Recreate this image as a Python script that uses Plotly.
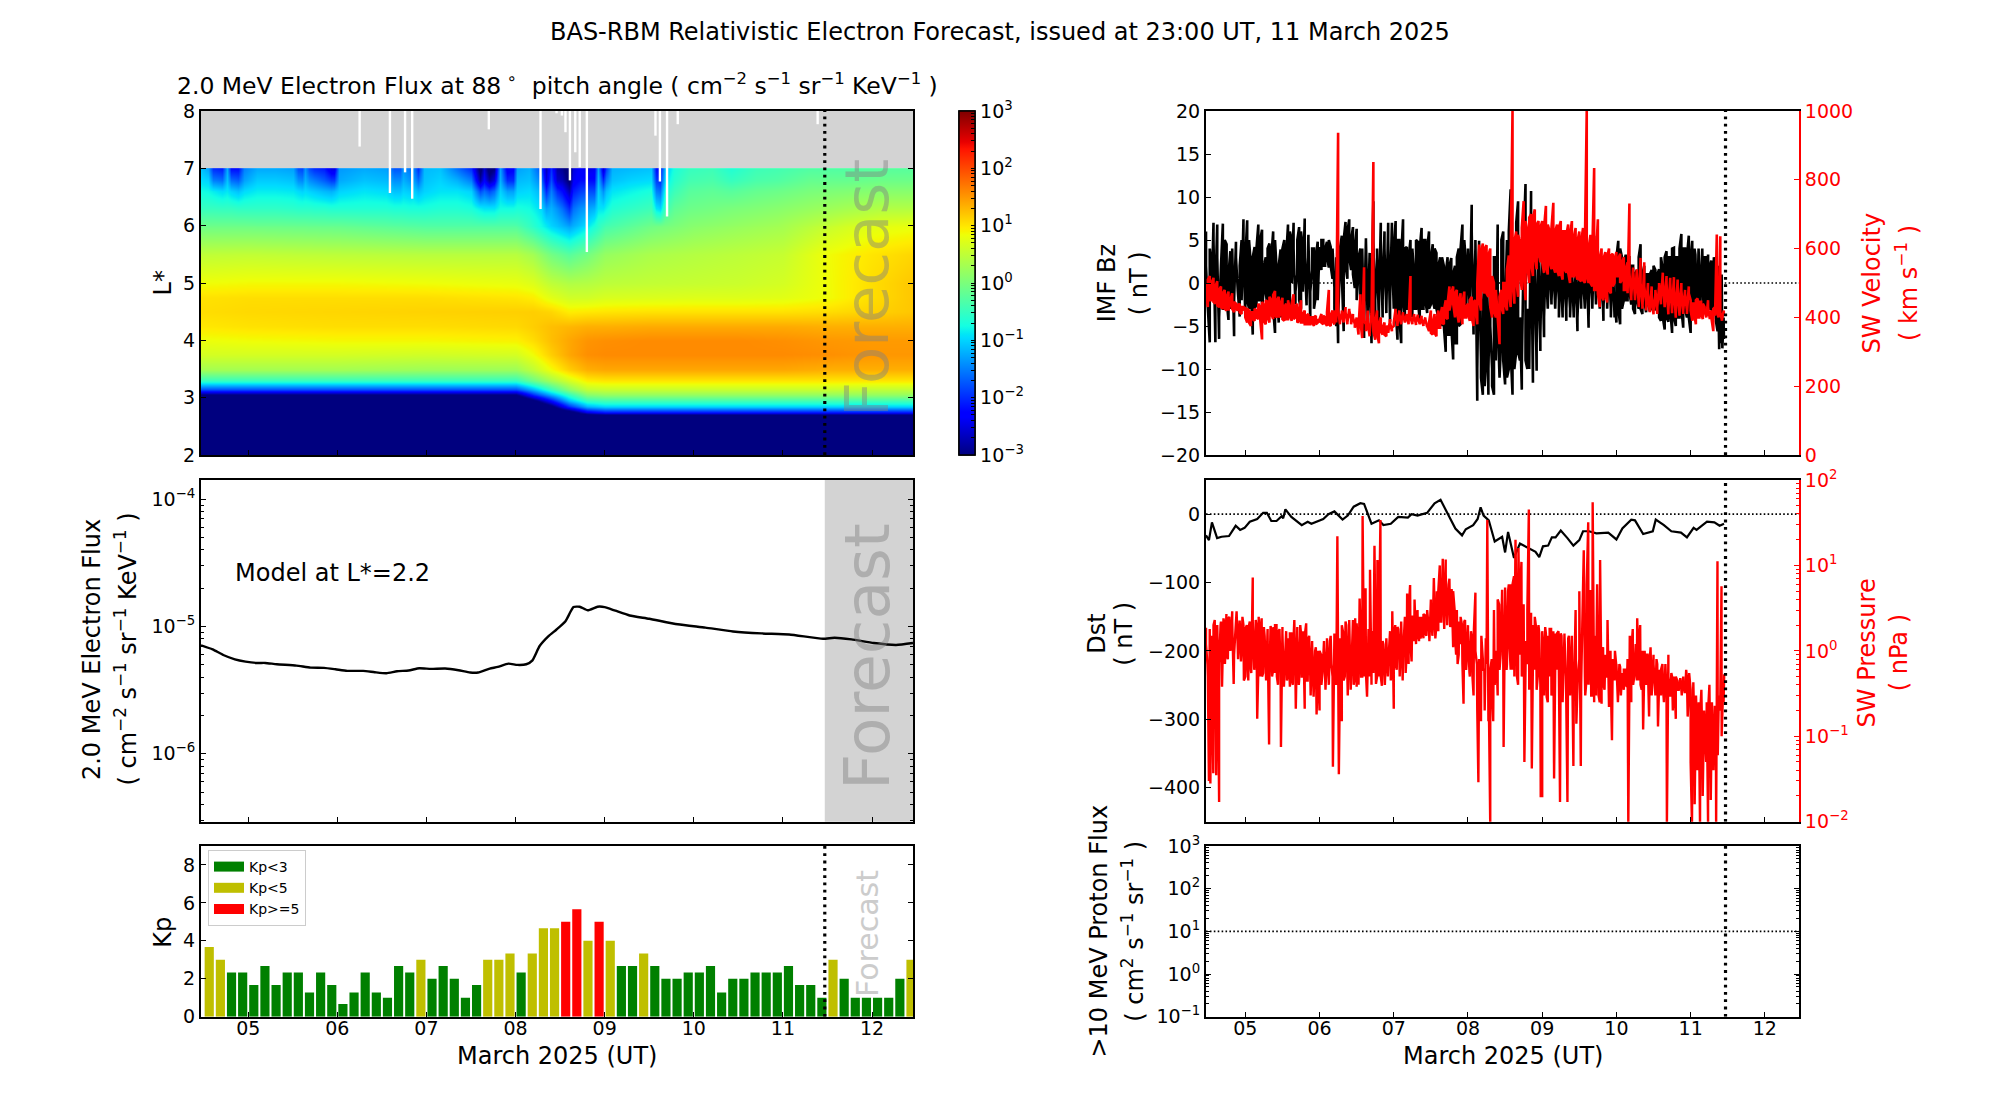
import numpy as np
import plotly.graph_objects as go

# ---------- shared ----------
FORECAST_DAY = 11.47
X_RANGE = [4.47, 12.46]
DAY_TICKS = [5, 6, 7, 8, 9, 10, 11, 12]
DAY_LABELS = ["05", "06", "07", "08", "09", "10", "11", "12"]
SEG_EDGES = [4.47, 5, 6, 7, 8, 9, 10, 11, 11.47]

# ---------- electron flux map: log10 flux ----------
map_times = [4.47, 5, 6, 7, 8, 8.2, 8.4, 8.6, 8.8, 9, 9.5, 10, 10.5, 11, 11.5, 12, 12.46]
map_L = [2, 2.6, 2.7, 2.75, 2.85, 2.95, 3.05, 3.15, 3.3, 3.5, 3.75, 4, 4.25, 4.5, 4.75, 5, 5.5, 6]
map_rows = [
    [-4, -4, -4, -4, -4, -4, -4, -4, -4, -4, -4, -4, -4, -4, -4, -4, -4],
    [-4, -4, -4, -4, -4, -4, -4, -4, -4, -4, -4, -4, -4, -4, -4, -4, -4],
    [-4, -4, -4, -4, -4, -4, -4, -4, -3.3, -3, -3, -3, -3, -3, -3, -3, -3],
    [-4, -4, -4, -4, -4, -4, -4, -3.5, -2.5, -2.2, -2.2, -2.2, -2.2, -2.2, -2.2, -2.2, -2.2],
    [-4, -4, -4, -4, -4, -4, -3.2, -2, -1.2, -1, -1, -1, -1, -1, -1, -1, -1],
    [-4, -4, -4, -4, -4, -3.2, -2.2, -1.1, -.5, -.4, -.4, -.4, -.4, -.4, -.4, -.4, -.4],
    [-3, -3, -3, -3, -3, -2, -1.2, -.5, .1, .2, .2, .2, .2, .2, .2, .2, .2],
    [-1.8, -1.8, -1.8, -1.8, -1.8, -1.2, -.5, .1, .5, .55, .55, .55, .55, .55, .55, .5, .5],
    [-.5, -.5, -.5, -.5, -.5, -.1, .3, .65, .95, 1.0, 1.0, 1.0, 1.0, 1.0, 1.0, 1.0, 1.0],
    [.3, .3, .3, .25, .25, .5, .85, 1.15, 1.35, 1.4, 1.4, 1.4, 1.4, 1.4, 1.35, 1.35, 1.35],
    [.65, .65, .65, .62, .65, .85, 1.15, 1.4, 1.55, 1.58, 1.58, 1.58, 1.58, 1.58, 1.55, 1.5, 1.5],
    [.82, .85, .88, .88, .92, 1.05, 1.25, 1.4, 1.52, 1.55, 1.58, 1.58, 1.58, 1.55, 1.5, 1.48, 1.48],
    [.98, 1.02, 1.05, 1.05, 1.08, 1.15, 1.25, 1.3, 1.35, 1.35, 1.38, 1.38, 1.38, 1.38, 1.35, 1.35, 1.35],
    [1.05, 1.08, 1.1, 1.12, 1.14, 1.15, 1.1, .95, .98, 1.0, 1.02, 1.02, 1.02, 1.02, 1.05, 1.12, 1.2],
    [1.02, 1.05, 1.05, 1.05, 1.0, .95, .75, .62, .62, .68, .7, .72, .72, .75, .85, 1.05, 1.2],
    [.85, .88, .88, .85, .8, .72, .5, .4, .42, .48, .52, .55, .58, .65, .85, 1.05, 1.2],
    [.5, .52, .48, .45, .45, .3, -.05, -.25, -.05, .2, .35, .42, .48, .55, .85, 1.0, 1.1],
    [-.1, -.1, -.15, -.3, -.3, -.6, -1.0, -1.3, -.9, -.4, -.1, .1, .2, .3, .55, .75, .8],
]
# fine structure above L*=6: day, then log10 flux at each L* of outer_L
outer_L = [6, 6.3, 6.6, 6.8, 7]
outer_table = [
    (4.47, -.1, -.5, -.75, -.95, -1.1), (4.55, -.1, -.5, -.78, -1.0, -1.3),
    (4.61, -.1, -.5, -.85, -1.5, -2.0), (4.70, -.1, -.52, -.95, -1.6, -2.1),
    (4.76, -.1, -.52, -.88, -1.1, -1.25), (4.81, -.1, -.52, -1.0, -1.6, -2.2),
    (4.88, -.1, -.55, -1.1, -1.7, -2.2), (4.95, -.1, -.55, -.95, -1.3, -1.5),
    (5.1, -.12, -.55, -.85, -1.05, -1.25), (5.3, -.12, -.55, -.85, -1.05, -1.25),
    (5.5, -.13, -.58, -.88, -1.1, -1.3), (5.56, -.13, -.6, -.95, -1.4, -1.8),
    (5.6, -.13, -.6, -1, -1.45, -1.85), (5.64, -.13, -.6, -.95, -1.2, -1.4),
    (5.68, -.14, -.6, -1, -1.4, -1.8), (5.74, -.14, -.62, -1.05, -1.5, -2.0),
    (5.85, -.15, -.62, -1.15, -1.7, -2.1), (5.93, -.15, -.65, -1.2, -1.9, -2.5),
    (5.96, -.15, -.65, -1.15, -1.9, -2.5), (6.02, -.15, -.65, -1.0, -1.25, -1.35),
    (6.3, -.2, -.65, -.9, -1.1, -1.25), (6.55, -.23, -.65, -.95, -1.15, -1.3),
    (6.64, -.25, -.68, -1.1, -1.4, -1.75), (6.7, -.25, -.68, -1.1, -1.4, -1.75),
    (6.74, -.26, -.68, -1, -1.2, -1.35), (6.8, -.27, -.7, -1.05, -1.35, -1.55),
    (6.85, -.27, -.7, -1.0, -1.25, -1.4), (6.9, -.28, -.7, -1.15, -1.6, -2.0),
    (6.97, -.29, -.7, -1, -1.1, -1.15), (7.15, -.3, -.65, -.9, -1.0, -1.1),
    (7.34, -.3, -.65, -.9, -1.2, -1.6), (7.5, -.3, -.7, -1, -1.5, -2.0),
    (7.6, -.3, -.85, -1.8, -2.8, -3.2), (7.65, -.3, -.9, -1.6, -2.3, -2.6),
    (7.7, -.3, -.9, -1.8, -2.8, -3.2), (7.76, -.3, -.9, -1.6, -2.5, -3.0),
    (7.82, -.3, -.75, -1, -1.2, -1.3), (7.9, -.3, -.75, -1.3, -2.0, -2.4),
    (7.97, -.3, -.75, -1.3, -2.0, -2.3), (8.02, -.33, -.7, -1, -1.15, -1.3),
    (8.15, -.5, -.75, -.95, -1.1, -1.2), (8.28, -.75, -.95, -1.2, -1.5, -1.8),
    (8.34, -.85, -1.3, -2.0, -2.5, -2.7), (8.4, -1.0, -1.2, -1.5, -1.8, -2.0),
    (8.46, -1.08, -1.4, -2.0, -2.6, -2.8), (8.52, -1.17, -1.6, -2.2, -2.7, -2.9),
    (8.6, -1.3, -2.0, -2.7, -3.1, -3.3), (8.65, -1.2, -1.6, -2.1, -2.4, -2.5),
    (8.72, -1.07, -1.4, -1.9, -2.2, -2.3), (8.8, -.9, -1.3, -1.8, -2.2, -2.5),
    (8.88, -.7, -1.2, -1.8, -2.2, -2.4), (8.93, -.54, -.9, -1, -1.15, -1.3),
    (8.98, -.44, -.9, -1.4, -2.0, -2.6), (9.02, -.39, -.8, -1.1, -1.5, -1.9),
    (9.08, -.35, -.65, -.9, -1.1, -1.2), (9.3, -.22, -.55, -.8, -1, -1.15),
    (9.52, -.09, -.45, -.7, -.95, -1.1), (9.58, -.06, -.9, -1.5, -1.9, -2.2),
    (9.62, -.05, -1.0, -1.6, -2.0, -2.2), (9.68, -.03, -.45, -.7, -.95, -1.1),
    (9.78, .01, -.2, -.45, -.6, -.7), (9.95, .09, -.1, -.25, -.4, -.5),
    (10.2, .14, -.05, -.2, -.35, -.45), (10.42, .18, 0, -.25, -.5, -.65),
    (10.7, .24, .05, -.15, -.35, -.45), (10.95, .29, .1, -.1, -.3, -.4),
    (11.3, .45, .2, 0, -.15, -.3), (11.7, .63, .3, .05, -.15, -.3),
    (12.1, .76, .4, .1, -.1, -.25), (12.46, .8, .4, .1, -.1, -.25),
]
# missing-data streaks: day and the L* they reach down to
streak_days = [6.25, 6.59, 6.76, 6.84, 7.70, 8.28, 8.46, 8.52, 8.56, 8.61, 8.67, 8.72, 8.80, 9.57, 9.62, 9.70, 9.82, 11.39]
streak_L = [7.38, 6.57, 6.93, 6.47, 7.68, 6.29, 7.96, 7.92, 7.63, 6.79, 7.28, 7.02, 5.54, 7.57, 6.77, 6.16, 7.77, 7.77]

# ---------- model flux at L*=2.2 ----------
model_days = [4.47, 4.60, 4.72, 4.85, 4.97, 5.10, 5.19, 5.32, 5.54, 5.70, 5.85, 5.98, 6.11, 6.29, 6.42, 6.55, 6.67, 6.80, 6.92,
              7.05, 7.21, 7.36, 7.49, 7.58, 7.71, 7.80, 7.92, 8.02, 8.12, 8.19, 8.27, 8.37, 8.46, 8.56, 8.65, 8.72, 8.81, 8.92,
              9.00, 9.12, 9.28, 9.50, 9.82, 10.13, 10.44, 10.76, 11.07, 11.45, 11.58, 11.77, 12.02, 12.27, 12.46]
model_flux = [7.11e-6, 6.61e-6, 5.97e-6, 5.52e-6, 5.30e-6, 5.17e-6, 5.17e-6, 5.05e-6, 4.93e-6, 4.75e-6, 4.73e-6, 4.61e-6, 4.48e-6,
              4.48e-6, 4.37e-6, 4.29e-6, 4.45e-6, 4.51e-6, 4.70e-6, 4.64e-6, 4.67e-6, 4.53e-6, 4.35e-6, 4.35e-6, 4.67e-6, 4.81e-6,
              5.11e-6, 4.99e-6, 5.05e-6, 5.42e-6, 7.02e-6, 8.40e-6, 9.47e-6, 11.0e-6, 14.2e-6, 14.3e-6, 13.4e-6, 14.3e-6, 14.2e-6,
              13.3e-6, 12.2e-6, 11.5e-6, 10.4e-6, 9.8e-6, 9.14e-6, 8.82e-6, 8.66e-6, 8.01e-6, 8.16e-6, 7.92e-6, 7.41e-6, 7.15e-6, 7.41e-6]

# ---------- Kp, three-hourly from the start of the window ----------
KP_FIRST = 4.5625
KP_STEP = 0.125
kp_values = [3.67, 3, 2.33, 2.33, 1.67, 2.67, 1.67, 2.33, 2.33, 1.27, 2.33, 1.67, .67, 1.27, 2.33, 1.27, 1, 2.67, 2.33, 3,
             2, 2.67, 2, 1, 1.67, 3, 3, 3.33, 2.33, 3.33, 4.67, 4.67, 5, 5.67, 4, 5, 4, 2.67, 2.67, 3.33,
             2.67, 2, 2, 2.33, 2.33, 2.67, 1.27, 2, 2, 2.33, 2.33, 2.33, 2.67, 1.67, 1.67, 1, 3, 2, 1, 1,
             1, 1, 2, 3]

# ---------- IMF Bz, by day (nT): envelope readings, then the readings inside the band ----------
bz_by_day = [
    [6, -3, -6.9, 2, 7, -6.9, 6.8, -6.5, 2, 6.9, -3, 4.5, -4.3, 3.7, -2, -6.2, 4.8, -1, -3.9, 5, 7.4],
    [-4, 7.3, -3, 2, -6, 4.2, -2.5, 6.8, -2, 6.2, -0.6, 3, -3, 4.6, -3.5, 6, -5.8, 1, -4.6, 3.9, -2.5, 5, -3, 6.8, -4, 5, 7, -2.5, 1, 6.5, -3, 4, 7.5, -2.6, 5.6, -4.5, 1.5, 4, -1.5, 4.8],
    [4.2, 1.5, 5, 2, 4.8, 1.8, 4.2, 0.5, -0.5, -5, -7, 2, 5.5, -5.6, 7.1, 0.5, 7.4, 1.5, 6.5, -0.6, 6.3, 1.2, 4, -1, -6.4, 5.2, -5, 3.5, -7, 9.5, -5.5, 3, -4.8, 7, -4, 6, -3.5, 7, -4.5, 7],
    [-3, 7.2, -6.6, 5, -7, 7.4, -4, 4.2, -3, 5, -4, 1, -3, 4.8, -4.4, 6.4, -3, 5, -3.5, 6, -2.5, 4.5, -3, 3.5, -4, 3, -5, 2, -8, 3, -6, 2.9, -8.9, 2, -7, 4, -4.8, 6.8, -4, 2],
    [3, -4, 9.1, -6, 4, -13.7, 4.9, -9, -13, 1, -8, -13, 0, -10, -13, 3, 6.8, -11, -6, 6, -11.8, 5, -10, 10.9, -13, 5, -8, 9.5, -9, -12.4, 4, 11.5, -10, -5, 10.7, -11.6, 7.2, -10.2, 3, -7.9],
    [5, -6.3, 4, -3, 3, -2.5, 2.5, -3, 3, -2, 3, -4, 2, -4.4, 3, -3, 2, -4, 1, -5.6, 2, -3, 3, -3, 2, -5.2, 4, -2, 5.5, -2.5, 3, -2, 2, -4.4, 2.5, -2, 3, -3, 2, -4],
    [-4.6, 4.9, -4.8, 3, -2, 3.3, -2, 3, -2.5, 2, -3.6, 1.5, -3, 4.5, -3.6, 2, -3.4, 1, -3.3, 1.5, -3.2, 1.5, -3.2, 1.6, -4.4, 1.6, -5.4, 3.7, -4.5, 3, -5.8, 4.1, -5, 3, -4, 5.7, -5.2, 4, -4, 5.5],
    [-5.8, 4.9, -3, 3.3, -4, 4, -2.5, 3.5, -3.5, 3, -3.8, 3.3, -3, 2.6, -4, 2, -4.5, -5.6, -7.7, -7, -7.6, -6.5],
]
bz_band_by_day = [
    [2, -3, 4, -2, 5, -1, 3, -4, 2, -3, 5, -2, 1, -3, 4, -2, 3, -1, 2, -2, 4],
    [3, -2, 5, -1, 3, -3, 4, -2, 5, -3, 2, -1, 4, -2, 3, -3, 5, -1, 2, -4, 4, -2, 3, -1, 6, 0, 4, -1, 5, -2, 6, -1, 3, -2, 5, -1, 4, -3, 3, -2],
    [3, 5, 2, 4, 3, 5, 2, 4, -3, 3, -4, 4, 1, 5, 2, 6, 3, 5, 1, 4, -2, 3, -4, 4, -5, 5, -4, 3, -3, 5, -2, 4, -3, 5, -2, 4, -3, 5, -2, 4],
    [4, -3, 5, -4, 3, -2, 4, -3, 3, -2, 4, -3, 5, -2, 4, -3, 5, -2, 4, -3, 3, -2, 4, -3, 2, -4, 3, -5, 1, -6, 2, -5, 1, -7, 3, -5, 4, -3, 5, -3],
    [4, -2, 6, -3, 5, -10, 3, -11, -3, -12, 2, -10, -5, -12, 3, -9, -4, -11, 5, -9, -3, -11, 6, -8, -3, -10, 7, -8, -4, -10, 5, -9, -3, -10, 6, -8, 4, -7, 3, -6],
    [3, -4, 2, -3, 4, -2, 3, -3, 2, -4, 2, -3, 3, -3, 1, -4, 2, -3, 2, -4, 3, -2, 1, -3, 3, -4, 2, -3, 4, -2, 2, -3, 3, -3, 2, -3, 2, -4, 3, -2],
    [3, -3, 4, -3, 2, -2, 3, -1, 2, -3, 1, -2, 3, -3, 1, -2, 1, -2, 1, -3, 2, -3, 1, -4, 3, -4, 3, -4, 3, -3, 4, -4, 3, -4, 4, -3, 4, -3, 3, -4],
    [3, -4, 4, -3, 3, -2, 4, -3, 3, -3, 2, -4, 3, -3, 2, -4, 1, -4],
]
# ---------- solar wind velocity, by day (km/s) ----------
vsw_by_day = [
    [500, 430, 520, 450, 515, 440, 505, 430, 490, 425, 480, 420, 475, 440, 470, 415, 440, 420, 440, 410, 430],
    [430, 385, 420, 375, 415, 390, 420, 395, 430, 336, 435, 380, 445, 385, 450, 395, 477, 400, 460, 410, 457, 390, 440, 395, 425, 390, 467, 400, 440, 390, 450, 385, 420, 380, 410, 380, 400, 375, 405, 385],
    [385, 410, 380, 400, 375, 480, 375, 420, 380, 405, 937, 380, 415, 385, 430, 380, 425, 395, 410, 380, 400, 350, 467, 340, 546, 380, 420, 345, 410, 852, 335, 420, 325, 400, 350, 385, 345, 370, 395, 360],
    [375, 425, 375, 420, 380, 415, 385, 410, 380, 520, 380, 410, 378, 408, 380, 405, 375, 400, 372, 360, 420, 350, 410, 345, 420, 370, 430, 380, 450, 395, 490, 447, 490, 400, 480, 385, 470, 380, 475, 400],
    [440, 390, 460, 375, 450, 380, 612, 420, 615, 470, 610, 460, 600, 400, 500, 400, 410, 322, 480, 410, 500, 420, 580, 430, 1000, 440, 650, 460, 620, 480, 738, 450, 650, 500, 700, 520, 714, 540, 680, 560],
    [680, 530, 724, 525, 650, 540, 733, 530, 670, 520, 680, 510, 650, 530, 670, 500, 680, 520, 660, 510, 650, 505, 660, 500, 1000, 500, 640, 490, 834, 480, 685, 430, 600, 450, 590, 443, 600, 470, 585, 500],
    [590, 520, 585, 510, 575, 480, 560, 731, 450, 545, 455, 540, 440, 573, 438, 560, 445, 500, 415, 490, 409, 470, 410, 490, 438, 530, 430, 520, 409, 515, 412, 517, 399, 510, 405, 500, 410, 480, 420, 490],
    [450, 390, 440, 380, 455, 400, 445, 395, 430, 400, 450, 395, 420, 360, 430, 641, 400, 636, 390, 420],
]
vsw_band_by_day = [
    [470, 510, 450, 500, 445, 490, 435, 480, 430, 470, 425, 460, 420, 450, 425, 445, 425, 435, 415, 430, 420],
    [400, 425, 385, 415, 395, 425, 400, 440, 395, 445, 390, 450, 400, 460, 410, 465, 405, 450, 400, 440, 395, 430, 395, 450, 405, 440, 395, 430, 385, 415, 385, 410, 380, 405, 380, 400, 385, 400, 380, 395],
    [395, 385, 405, 385, 415, 380, 405, 390, 420, 385, 425, 385, 420, 395, 415, 385, 420, 380, 400, 370, 395, 370, 390, 360, 390, 360, 385, 355, 395, 360, 385, 355, 380, 360, 370, 350, 375, 355, 385, 370],
    [385, 415, 380, 410, 385, 410, 385, 405, 390, 400, 385, 405, 385, 400, 380, 395, 380, 395, 375, 385, 355, 385, 355, 390, 370, 400, 385, 420, 400, 440, 420, 470, 440, 470, 420, 450, 410, 440, 400, 430],
    [410, 450, 400, 445, 420, 500, 450, 590, 480, 600, 470, 580, 430, 520, 420, 480, 400, 460, 430, 500, 440, 540, 470, 580, 500, 620, 510, 640, 530, 660, 540, 680, 550, 690, 560, 690, 580, 670, 590, 660],
    [560, 660, 550, 670, 560, 660, 550, 650, 540, 660, 530, 650, 540, 640, 530, 640, 520, 630, 530, 620, 510, 620, 510, 610, 520, 600, 500, 590, 480, 580, 470, 570, 460, 570, 470, 575, 480, 580, 490, 570],
    [520, 570, 500, 560, 480, 540, 470, 530, 460, 540, 450, 530, 430, 500, 425, 490, 420, 470, 415, 460, 420, 480, 430, 500, 450, 510, 430, 500, 420, 500, 420, 490, 410, 490, 410, 480, 420, 470, 410, 470],
    [420, 440, 410, 450, 400, 445, 410, 440, 420, 400, 430, 410, 395, 425, 405, 420, 400, 415, 395, 410],
]
# ---------- Dst ----------
dst_days = [4.47, 4.51, 4.55, 4.62, 4.68, 4.78, 4.87, 4.93, 4.99, 5.06, 5.16, 5.24, 5.29, 5.35, 5.42, 5.49, 5.51, 5.54, 5.62, 5.76, 5.84, 5.89,
            6.05, 6.12, 6.20, 6.31, 6.38, 6.46, 6.55, 6.60, 6.70, 6.80, 6.86, 6.96, 7.06, 7.16, 7.19, 7.24, 7.32, 7.45, 7.55, 7.63, 7.72, 7.83,
            7.92, 7.97, 8.07, 8.13, 8.17, 8.21, 8.28, 8.36, 8.46, 8.50, 8.54, 8.58, 8.62, 8.70, 8.82, 8.91, 8.96, 9.01, 9.08, 9.13, 9.18, 9.25,
            9.34, 9.42, 9.50, 9.55, 9.63, 9.73, 9.89, 10.00, 10.08, 10.20, 10.25, 10.36, 10.49, 10.53, 10.64, 10.74, 10.87, 10.95, 11.04, 11.08,
            11.22, 11.32, 11.39, 11.45]
dst_values = [-31, -38, -12, -35, -33, -32, -17, -23, -20, -11, -7, 2, 2, -10, -10, -3, -6, 7, -4, -16, -11, -14,
              -7, 0, 4, -8, -2, 11, 16, 15, -14, -9, -16, -14, -4, -4, -5, 0, -2, 2, 16, 21, 3, -21,
              -31, -22, -16, -7, 10, -2, -9, -40, -33, -56, -26, -44, -64, -43, -50, -55, -63, -47, -46, -34, -34, -24,
              -35, -46, -38, -25, -25, -28, -27, -37, -21, -8, -9, -29, -25, -8, -16, -25, -27, -34, -20, -23,
              -11, -12, -17, -14]
# ---------- solar wind pressure, by day (nPa) ----------
psw_by_day = [
    [1.87, .7, .03, .028, 1.5, .037, 2.3, .035, 1.2, .017, 2.0, .38, 2.4, .7, 2.7, .8, 2.5, 1.2, 2.9, .41, 1.5, 2.9, .8, 2.2, .75, 2.5, .45],
    [.5, 2, .45, 2.2, .55, 7.2, .6, 2.3, .16, 2.5, .5, 2.4, .55, 1.5, .45, 1.8, .08, 1.95, .5, 1.9, .55, 2, .4, 1.8, .075, 1.9, .38, 1.5, .45, 1.4, .38, 1.6, .4, 2.3, .21, 1.9, .4, 2, .5, 1.7, .21, 2.1, .45, 1.5, .3, 1.3, .29, 1.0, .18, 1.0],
    [.2, .9, .55, 1.3, .35, 1.1, .5, 1.3, .7, .044, 1.3, .5, 22, .036, 1.4, .15, 1.6, .5, 2, .3, 2.3, .35, 2.2, .4, 2.4, .38, .9, 4.1, .5, 38, .5, 5.4, .29, 1.8, 8.9, .4, 1.5, 17, .41, 11.6, .5, 34, .39, 1.2, .4, 1.4, .5, 1.5, .45, 2.9],
    [.21, 2, .6, 1.8, .5, 2.2, .45, 1.9, .55, 4.7, .7, 5.9, .75, 1.5, 4, 1.2, 3, 1.3, 1.4, 2.5, 1.4, 2.6, 1.5, 2.5, 1.3, 4, 1.5, 7.1, 1.4, 5, 1.7, 10, 2.2, 12, 1.8, 11.7, 2, 6, 1.9, 5.3, 1.1, 3, .9, .7, 2.2, 1.2, 2, .24, 2.3, .7],
    [2, .55, 1.7, .5, 1.8, 4.8, .7, .029, .5, 1.5, .8, .6, 1.4, 34, .3, .009, .8, .15, .4, 1.0, .3, 3.5, .9, 5.2, .075, 4, .6, 5, 1.1, 6, .6, 7.5, 20, .5, 16, .9, 11, .7, .05, 1.3, .7, 45, 1, .042, 2, .6, 1.8, .5, 1.6, .02],
    [.02, .9, 1.9, .29, 1.5, .5, 1.8, .4, .032, 1.6, .6, 1.7, .017, 1.5, .35, 1.6, .5, .017, 1.5, .4, 1.5, .045, 1.1, .14, .5, .8, .045, 2, 15, .3, .5, 32, 5, .3, 55, .25, .9, 6, .3, 11.6, .24, 1.1, .35, .5, 2.3, .22, 1.0, .09, .6, 1.0],
    [.65, .25, .7, .3, .55, .35, .6, .38, .009, 1.5, .25, 1.8, .5, 1.2, 2.4, .45, 2, .35, .12, 1, .4, .9, .17, 1.1, .4, .9, .35, .8, .13, .6, .3, .7, .25, .7, .009, .9, .3, .55, .2, .5, .16, .45, .35, .48, .3, .5, .33, .6, .17, .55],
    [.35, .009, .43, .016, .3, .04, .25, .009, .35, .02, .2, .05, .25, .009, .4, .018, .2, .04, .22, .009, 11.2, .3, .2, 5.7, .28, .53],
]
psw_band_by_day = [
    [1.2, .5, 1.8, .6, 2, .6, 2, .7, 2.2, .8, 2, .9, 2.4, 1, 2.2, .9, 2.5, 1, 2.2, 1, 2],
    [1.8, .8, 2, .6, 2.2, .7, 2, .6, 1.7, .5, 1.9, .6, 1.6, .5, 1.8, .6, 2, .5, 1.7, .55, 1.6, .5, 1.7, .55, 1.6, .45, 1.4, .5, 1.5, .45, 1.6, .5, 1.5, .45, 1.4, .5, 1.2, .45, 1.1, .5],
    [1, .4, 1.2, .5, 1.4, .4, 1.5, .5, 1.6, .4, 1.8, .5, 2, .45, 2.2, .4, 2.2, .5, 2.3, .5, 2.1, .4, 2, .5, 2, .55, 1.8, .5, 1.7, .55, 1.6, .5, 1.4, .5, 1.3, .6, 1.4, .7, 1.7, .8],
    [1.5, .7, 1.9, .8, 2.2, .9, 2.5, 1, 2.8, 1.2, 2.6, 1.3, 2.4, 1.5, 2.5, 1.6, 2.7, 1.6, 3, 1.7, 3.5, 1.8, 4, 2, 5, 2.2, 6, 2.5, 8, 3, 7, 2.5, 5, 1.5, 3, .9, 2.5, .7, 2.2, .6],
    [1.6, .5, 1.5, .3, 1, .2, .8, .15, .6, .2, .7, .15, .6, .3, 3, .7, 4, .6, 5, .8, 5.5, .7, 6, .6, 6, .5, 5, .4, 4, .5, 3.5, .4, 3, .35, 2.8, .4, 2.5, .35, 2, .4],
    [1.7, .3, 1.6, .25, 1.8, .3, 1.7, .25, 1.6, .2, 1.6, .25, 1.5, .2, 1.4, .3, 1.3, .25, 3, .3, 5, .4, 7, .5, 6, .4, 5, .3, 1.5, .3, 1.2, .25, 1, .4, .9, .5, .8, .4, .8, .45],
    [.7, .4, .65, .5, .6, .4, .8, .5, 1, .4, 1.2, .45, 1.1, .4, 1, .45, .9, .4, .8, .3, .7, .3, .7, .35, .6, .4, .55, .3, .5, .3, .5, .35, .5, .35, .48, .35, .45, .33, .48, .3],
    [.05, .15, .1, .2, .06, .2, .08, .18, .05, .2, .1, .25, .07, .22, .06, .2, .1, .25],
]
PROTON_THRESHOLD = 10

JET = [[0, "rgb(0,0,127)"], [.11, "rgb(0,0,255)"], [.125, "rgb(0,0,255)"], [.34, "rgb(0,219,255)"], [.35, "rgb(0,229,247)"],
       [.375, "rgb(20,255,226)"], [.64, "rgb(238,255,8)"], [.65, "rgb(247,245,0)"], [.66, "rgb(255,236,0)"],
       [.89, "rgb(255,19,0)"], [.91, "rgb(232,0,0)"], [1, "rgb(127,0,0)"]]

W, H = 2000, 1100
LEFT = (201, 913)
RIGHT = (1206, 1799)
ROWS = [(111, 455), (480, 821.7), (846, 1016.7)]
FONT = "DejaVu Sans"
TICK_SIZE = 19
LABEL_SIZE = 24


def dom_x(p):
    return [p[0] / W, p[1] / W]


def dom_y(p):
    return [1 - p[1] / H, 1 - p[0] / H]


def by_day(*series):
    pts = []
    for vals in series:
        for i, seg in enumerate(vals):
            pts.extend(zip(np.linspace(SEG_EDGES[i], SEG_EDGES[i + 1], len(seg), endpoint=False).tolist(), seg))
    pts.sort(key=lambda p: p[0])
    return [p[0] for p in pts], [p[1] for p in pts]


def edged(coord, rows, eps=0.002):
    """repeat the last row a hair further so a smoothed heatmap stops on its edge"""
    return [coord[0] - eps] + list(coord) + [coord[-1] + eps], [rows[0]] + list(rows) + [rows[-1]]


def pow_label(v):
    return "10<sup>" + str(v).replace("-", "−") + "</sup>"


fig = go.Figure()
BLACK_DOT = dict(color="black", width=3.2, dash="2.8px,4.5px")
THIN_DOT = dict(color="black", width=1.6, dash="1.6px,2.3px")
CB_GEOM = dict(x=959 / W, xanchor="left", xref="paper", y=1 - 455 / H, yanchor="bottom", yref="paper", xpad=0, ypad=0,
               len=344 / H, lenmode="fraction", thickness=16, thicknessmode="pixels", outlinewidth=1.5, outlinecolor="black")

# ---- panel 1: map (first colour bar carries the labels, second the tick marks)
yl, zl = edged(map_L, map_rows)
fig.add_trace(go.Heatmap(x=map_times, y=yl, z=zl, xaxis="x", yaxis="y", zmin=-3, zmax=3, colorscale=JET, zsmooth="best", hoverinfo="skip",
                         colorbar=dict(tickvals=list(range(-3, 4)), ticktext=[pow_label(v) for v in range(-3, 4)], ticks="",
                                       tickfont=dict(size=TICK_SIZE, family=FONT, color="black"), **CB_GEOM)))
ol = [row[0] for row in outer_table]
oz = [[row[i + 1] for row in outer_table] for i in range(len(outer_L))]
yo, zo = edged(outer_L, oz)
fig.add_trace(go.Heatmap(x=ol, y=yo, z=zo, xaxis="x", yaxis="y", zmin=-3, zmax=3, colorscale=JET, zsmooth="best", hoverinfo="skip",
                         colorbar=dict(tickvals=[v + np.log10(m) for v in range(-3, 3) for m in range(1, 10)] + [3], showticklabels=False,
                                       ticks="inside", ticklen=4, tickwidth=1, tickcolor="black", **CB_GEOM)))
sx, sy = [], []
for d, l in zip(streak_days, streak_L):
    sx += [d, d, None]
    sy += [8, l, None]
fig.add_trace(go.Scatter(x=sx, y=sy, xaxis="x", yaxis="y", mode="lines", line=dict(color="white", width=2.4), showlegend=False, hoverinfo="skip"))
fig.add_trace(go.Scatter(x=[FORECAST_DAY, FORECAST_DAY], y=[2, 8], xaxis="x", yaxis="y", mode="lines", line=BLACK_DOT, showlegend=False))

# ---- panel 2: model line
fig.add_trace(go.Scatter(x=model_days, y=model_flux, xaxis="x2", yaxis="y2", mode="lines", line=dict(color="black", width=2.4, shape="spline", smoothing=0.5), showlegend=False))

# ---- panel 3: Kp
kp_x = [KP_FIRST + KP_STEP * i for i in range(len(kp_values))]
groups = [("Kp<3", "#008000", lambda v: v < 3), ("Kp<5", "#bfbf00", lambda v: 3 <= v < 5), ("Kp>=5", "#ff0000", lambda v: v >= 5)]
for name, col, test in groups:
    xs = [x for x, v in zip(kp_x, kp_values) if test(v)]
    ys = [v for v in kp_values if test(v)]
    fig.add_trace(go.Bar(x=xs, y=ys, xaxis="x3", yaxis="y3", width=0.103, marker=dict(color=col, line=dict(width=0)), name=name, showlegend=False, legendgroup=name))
    fig.add_trace(go.Scatter(x=[None], y=[None], xaxis="x3", yaxis="y3", mode="lines", line=dict(color=col, width=10), name=name, legendgroup=name))
fig.add_trace(go.Scatter(x=[FORECAST_DAY, FORECAST_DAY], y=[0, 9], xaxis="x3", yaxis="y3", mode="lines", line=BLACK_DOT, showlegend=False))

# ---- right 1: Bz and velocity
fig.add_trace(go.Scatter(x=X_RANGE, y=[0, 0], xaxis="x4", yaxis="y4", mode="lines", line=THIN_DOT, showlegend=False))
bx, by = by_day(bz_by_day, bz_band_by_day)
fig.add_trace(go.Scatter(x=bx, y=by, xaxis="x4", yaxis="y4", mode="lines", line=dict(color="black", width=2.6), showlegend=False))
vx, vy = by_day(vsw_by_day, vsw_band_by_day)
fig.add_trace(go.Scatter(x=vx, y=vy, xaxis="x4", yaxis="y7", mode="lines", line=dict(color="red", width=2.6), showlegend=False))
fig.add_trace(go.Scatter(x=[FORECAST_DAY, FORECAST_DAY], y=[0, 1000], xaxis="x4", yaxis="y7", mode="lines", line=BLACK_DOT, showlegend=False))

# ---- right 2: Dst and pressure
fig.add_trace(go.Scatter(x=X_RANGE, y=[0, 0], xaxis="x5", yaxis="y5", mode="lines", line=THIN_DOT, showlegend=False))
fig.add_trace(go.Scatter(x=dst_days, y=dst_values, xaxis="x5", yaxis="y5", mode="lines", line=dict(color="black", width=2.2), showlegend=False))
px_, py_ = by_day(psw_by_day, psw_band_by_day)
fig.add_trace(go.Scatter(x=px_, y=py_, xaxis="x5", yaxis="y8", mode="lines", line=dict(color="red", width=2.4), showlegend=False))
fig.add_trace(go.Scatter(x=[FORECAST_DAY, FORECAST_DAY], y=[0.01, 100], xaxis="x5", yaxis="y8", mode="lines", line=BLACK_DOT, showlegend=False))

# ---- right 3: proton
fig.add_trace(go.Scatter(x=X_RANGE, y=[PROTON_THRESHOLD, PROTON_THRESHOLD], xaxis="x6", yaxis="y6", mode="lines", line=THIN_DOT, showlegend=False))
fig.add_trace(go.Scatter(x=[FORECAST_DAY, FORECAST_DAY], y=[0.1, 1000], xaxis="x6", yaxis="y6", mode="lines", line=BLACK_DOT, showlegend=False))


def xax(col, labels, anchor):
    d = dict(domain=dom_x(col), range=X_RANGE, anchor=anchor, tickmode="array", tickvals=DAY_TICKS,
             ticks="inside", ticklen=5, tickwidth=1.4, tickcolor="black", showticklabels=labels,
             showgrid=False, zeroline=False, showline=True, linecolor="black", linewidth=2, mirror=True,
             tickfont=dict(size=TICK_SIZE, family=FONT, color="black"))
    if labels:
        d["ticktext"] = DAY_LABELS
        d["ticklabelstandoff"] = -7
    return d


def yax(row, anchor, **kw):
    d = dict(domain=dom_y(row), anchor=anchor, showgrid=False, zeroline=False, showline=True, linecolor="black", linewidth=2,
             ticks="inside", ticklen=5, tickwidth=1.4, tickcolor="black", mirror="allticks",
             tickfont=dict(size=TICK_SIZE, family=FONT, color="black"))
    d.update(kw)
    return d


def logy(lo, hi, color="black"):
    exps = list(range(lo, hi + 1))
    return dict(type="log", tickmode="array", tickvals=[10.0 ** e for e in exps], ticktext=[pow_label(e) for e in exps],
                minor=dict(ticks="inside", ticklen=3, tickwidth=1, tickcolor=color, dtick="D1", showgrid=False))


lay = dict(width=W, height=H, margin=dict(l=0, r=0, t=0, b=0, autoexpand=False), plot_bgcolor="white", paper_bgcolor="white", barmode="overlay",
           font=dict(family=FONT, color="black"),
           legend=dict(x=208 / W, xanchor="left", y=1 - 850 / H, yanchor="top", bgcolor="rgba(255,255,255,0.8)",
                       bordercolor="#cccccc", borderwidth=1, font=dict(size=14, family=FONT, color="black"),
                       itemwidth=30, tracegroupgap=0))
lay["xaxis"] = xax(LEFT, False, "y")
lay["xaxis2"] = xax(LEFT, False, "y2")
lay["xaxis3"] = xax(LEFT, True, "y3")
lay["xaxis4"] = xax(RIGHT, False, "y4")
lay["xaxis5"] = xax(RIGHT, False, "y5")
lay["xaxis6"] = xax(RIGHT, True, "y6")
lay["yaxis"] = yax(ROWS[0], "x", range=[2, 8], tickmode="array", tickvals=[2, 3, 4, 5, 6, 7, 8])
lay["yaxis2"] = yax(ROWS[1], "x2", range=[-6.534, -3.849], **logy(-6, -4))
lay["yaxis3"] = yax(ROWS[2], "x3", range=[0, 9], tickmode="array", tickvals=[0, 2, 4, 6, 8])
lay["yaxis4"] = yax(ROWS[0], "x4", range=[-20, 20], tickmode="array", tickvals=list(range(-20, 21, 5)), mirror=False)
lay["yaxis5"] = yax(ROWS[1], "x5", range=[-450, 50], tickmode="array", tickvals=[-400, -300, -200, -100, 0], mirror=False)
lay["yaxis6"] = yax(ROWS[2], "x6", range=[-1, 3], **logy(-1, 3))
RED = dict(linecolor="red", tickcolor="red", tickfont=dict(size=TICK_SIZE, family=FONT, color="red"), side="right", mirror=False)
lay["yaxis7"] = yax(ROWS[0], "x4", range=[0, 1000], overlaying="y4", tickmode="array", tickvals=[0, 200, 400, 600, 800, 1000], **RED)
lay["yaxis8"] = yax(ROWS[1], "x5", range=[-2, 2], overlaying="y5", **logy(-2, 2, "red"), **RED)
lay["shapes"] = [
    dict(type="rect", xref="x", yref="y", x0=X_RANGE[0], x1=X_RANGE[1], y0=7, y1=8, fillcolor="#d3d3d3", line=dict(width=0), layer="below"),
    dict(type="rect", xref="x2", yref="paper", x0=FORECAST_DAY, x1=X_RANGE[1], y0=dom_y(ROWS[1])[0], y1=dom_y(ROWS[1])[1], fillcolor="#d3d3d3", line=dict(width=0), layer="below"),
]


def label(x, y, text, size=LABEL_SIZE, color="black", angle=0, xanchor="center"):
    return dict(xref="paper", yref="paper", x=x / W, y=1 - y / H, text=text, showarrow=False, textangle=angle,
                font=dict(size=size, family=FONT, color=color), xanchor=xanchor, yanchor="middle")


S = 1.2755
M2 = "<sup>−2</sup>"
M1 = "<sup>−1</sup>"
lay["annotations"] = [
    label(1000, 32, "BAS-RBM Relativistic Electron Forecast, issued at 23:00 UT, 11 March 2025"),
    label(437 * S, 66 * S, f"2.0 MeV Electron Flux at 88<sup> ∘</sup>  pitch angle ( cm{M2} s{M1} sr{M1} KeV{M1} )", 23.5),
    label(128 * S, 222 * S, "L*", angle=-90),
    label(72 * S, 509 * S, "2.0 MeV Electron Flux", angle=-90),
    label(99 * S, 509 * S, f"( cm{M2} s{M1} sr{M1} KeV{M1} )", angle=-90),
    label(128 * S, 731 * S, "Kp", angle=-90),
    label(437 * S, 828 * S, "March 2025 (UT)"),
    label(1178 * S, 828 * S, "March 2025 (UT)"),
    label(868 * S, 222 * S, "IMF Bz", angle=-90),
    label(893 * S, 222 * S, "( nT )", angle=-90),
    label(860 * S, 497 * S, "Dst", angle=-90),
    label(881 * S, 497 * S, "( nT )", angle=-90),
    label(862 * S, 730 * S, "&gt;10 MeV Proton Flux", angle=-90),
    label(888 * S, 730 * S, f"( cm<sup>2</sup> s{M1} sr{M1} )", angle=-90),
    label(1468 * S, 222 * S, "SW Velocity", color="red", angle=-90),
    label(1495 * S, 222 * S, f"( km s{M1} )", color="red", angle=-90),
    label(1464 * S, 512 * S, "SW Pressure", color="red", angle=-90),
    label(1489 * S, 512 * S, "( nPa )", color="red", angle=-90),
    label(233, 573, "Model at L*=2.2", xanchor="left"),
    label(866, 288, "Forecast", 61, "rgba(128,128,128,0.45)", angle=-90),
    label(867, 657, "Forecast", 63, "rgba(128,128,128,0.45)", angle=-90),
    label(867, 934, "Forecast", 30, "#cccccc", angle=-90),
]
fig.update_layout(**lay)
fig.write_html("out.html", config=dict(displayModeBar=False), post_script="document.body.style.margin='0';")
